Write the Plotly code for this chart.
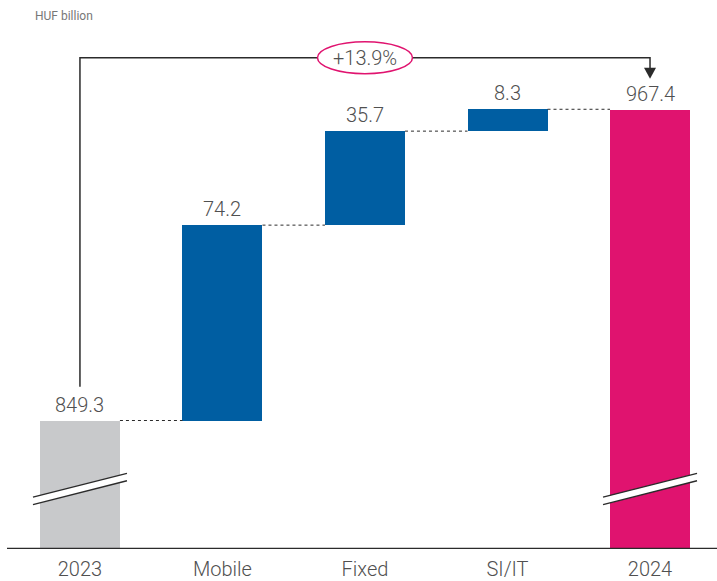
import plotly.graph_objects as go

# ---- data ----
categories = ["2023", "Mobile", "Fixed", "SI/IT", "2024"]
start_value = 849.3
deltas = [74.2, 35.7, 8.3]
end_value = 967.4
change_label = "+13.9%"
unit_label = "HUF billion"

# ---- style ----
GRAY = "#c8c9cb"
BLUE = "#005ea2"
MAGENTA = "#e0136f"
TEXT = "#505050"
DARK = "#2b2b2b"
FONT = "Roboto"

W, H = 717, 581
B_MARGIN = 30
Y_MIN, Y_MAX = 800.5, 1009.0
X_MIN, X_MAX = -0.561, 4.47
PX_Y = (H - B_MARGIN) / (Y_MAX - Y_MIN)   # px per y unit
PX_X = W / (X_MAX - X_MIN)                 # px per x unit
BAR_W = 80 / PX_X

def dy(px):
    return px / PX_Y

def dx(px):
    return px / PX_X

xs = list(range(len(categories)))

# bar bases and heights
bases, heights, colors, tops = [], [], [], []
bases.append(Y_MIN); heights.append(start_value - Y_MIN); colors.append(GRAY); tops.append(start_value)
running = start_value
for d in deltas:
    bases.append(running); heights.append(d); colors.append(BLUE)
    running += d
    tops.append(running)
bases.append(Y_MIN); heights.append(end_value - Y_MIN); colors.append(MAGENTA); tops.append(end_value)

labels = [f"{start_value:.1f}"] + [f"{d:.1f}" for d in deltas] + [f"{end_value:.1f}"]

fig = go.Figure()
fig.add_trace(go.Bar(
    x=xs, y=heights, base=bases, width=BAR_W,
    marker=dict(color=colors, line=dict(width=0)),
    hoverinfo="skip", showlegend=False,
))

shapes = []
annotations = []

# connectors
levels = [start_value]
r = start_value
for d in deltas:
    r += d
    levels.append(r)
for i, lv in enumerate(levels):
    shapes.append(dict(type="line", xref="x", yref="y",
                       x0=xs[i] + BAR_W / 2, x1=xs[i + 1] - BAR_W / 2, y0=lv, y1=lv,
                       line=dict(color=DARK, width=1, dash="dot")))

# value labels
for i, (t, lab) in enumerate(zip(tops, labels)):
    annotations.append(dict(x=xs[i], y=t, xref="x", yref="y", text=lab, showarrow=False,
                            yanchor="bottom", yshift=2,
                            font=dict(family=FONT, size=20, color=TEXT, weight=300)))

# broken-axis marks on total bars
brk_y = Y_MIN + dy(64)
for i in (0, len(categories) - 1):
    hw = dx(47)
    x0, x1 = xs[i] - hw, xs[i] + hw
    yl, yr = brk_y - dy(12), brk_y + dy(12)
    gap = dy(7.5)
    path = f"M {x0},{yl} L {x1},{yr} L {x1},{yr - gap} L {x0},{yl - gap} Z"
    shapes.append(dict(type="path", xref="x", yref="y", path=path,
                       fillcolor="white", line=dict(width=0)))
    shapes.append(dict(type="line", xref="x", yref="y", x0=x0, x1=x1, y0=yl, y1=yr,
                       line=dict(color=DARK, width=1.3)))
    shapes.append(dict(type="line", xref="x", yref="y", x0=x0, x1=x1, y0=yl - gap, y1=yr - gap,
                       line=dict(color=DARK, width=1.3)))

# bracket
bracket_y = end_value + dy(52)
left_bottom = start_value + dy(34)
arrow_tip = end_value + dy(31)
shapes.append(dict(type="path", xref="x", yref="y",
                   path=f"M {xs[0]},{left_bottom} L {xs[0]},{bracket_y} L {xs[-1]},{bracket_y} L {xs[-1]},{arrow_tip + dy(8)}",
                   line=dict(color=DARK, width=1.5)))
shapes.append(dict(type="path", xref="x", yref="y",
                   path=f"M {xs[-1] - dx(6)},{arrow_tip + dy(11)} L {xs[-1] + dx(6)},{arrow_tip + dy(11)} L {xs[-1]},{arrow_tip} Z",
                   fillcolor=DARK, line=dict(width=0)))
# ellipse with change label
mid = (xs[0] + xs[-1]) / 2
shapes.append(dict(type="circle", xref="x", yref="y",
                   x0=mid - dx(47.5), x1=mid + dx(47.5), y0=bracket_y - dy(16), y1=bracket_y + dy(16),
                   fillcolor="white", line=dict(color=MAGENTA, width=1.5)))
annotations.append(dict(x=mid, y=bracket_y, xref="x", yref="y", text=change_label, showarrow=False,
                        font=dict(family=FONT, size=20, color=TEXT, weight=300)))

# unit label
annotations.append(dict(x=33 / W, y=1 - 17 / H, xref="paper", yref="paper", text=unit_label,
                        showarrow=False, xanchor="left", yanchor="middle",
                        yshift=0, font=dict(family=FONT, size=12, color="#777777")))

# axis baseline
shapes.append(dict(type="line", xref="x", yref="y", x0=X_MIN + dx(7), x1=X_MAX, y0=Y_MIN, y1=Y_MIN,
                   line=dict(color=DARK, width=2.5)))

fig.update_layout(
    width=W, height=H,
    margin=dict(l=0, r=0, t=0, b=B_MARGIN),
    paper_bgcolor="white", plot_bgcolor="white",
    shapes=shapes, annotations=annotations,
    xaxis=dict(range=[X_MIN, X_MAX], tickvals=xs, ticktext=categories, showgrid=False,
               zeroline=False, showline=False, ticks="", fixedrange=True,
               ticklabelstandoff=6,
               tickfont=dict(family=FONT, size=20, color=TEXT, weight=300)),
    yaxis=dict(range=[Y_MIN, Y_MAX], visible=False, fixedrange=True),
    bargap=0,
)

fig.write_html("out.html", config={"displayModeBar": False},
               post_script="document.body.style.margin='0';document.body.style.padding='0';document.body.style.overflow='hidden';")
